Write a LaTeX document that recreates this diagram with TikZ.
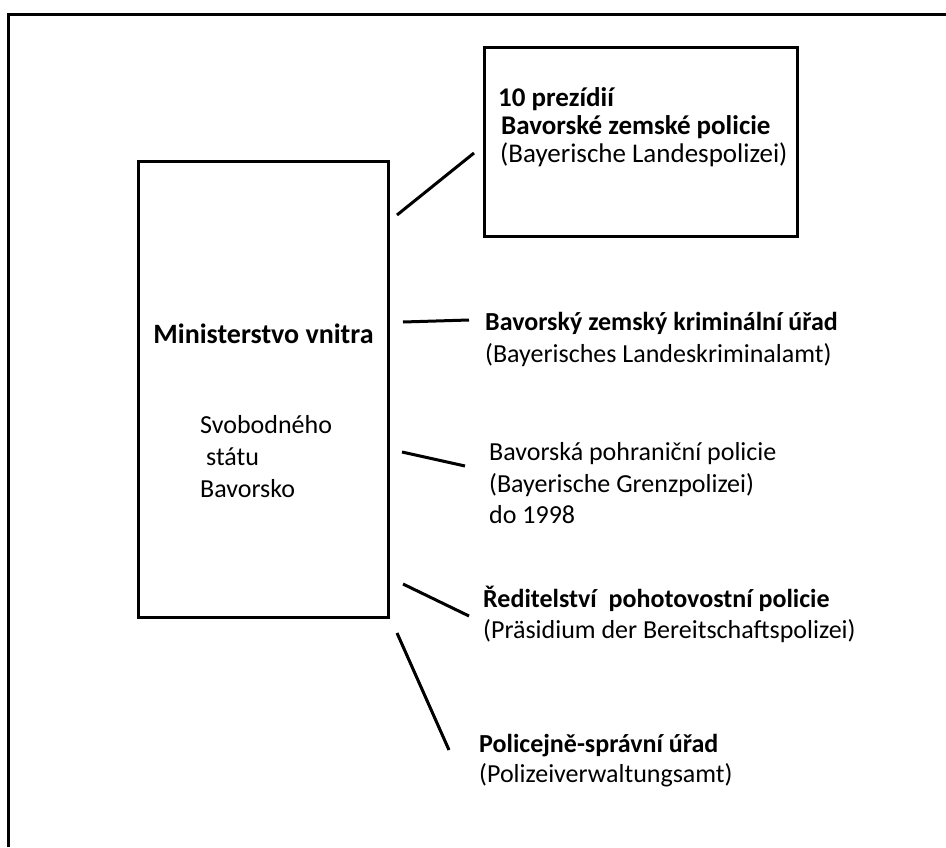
\documentclass[tikz,border=0pt]{standalone}
\usepackage{fontspec}
\setmainfont{Carlito}
\begin{document}
\begin{tikzpicture}[x=1pt,y=-1pt,
  frame/.style={line width=3pt},
  box/.style={draw,line width=3pt,inner sep=0pt},
  conn/.style={line width=3pt},
  txt/.style={anchor=base west,inner sep=0pt,font=\fontsize{26}{32}\selectfont},
  btxt/.style={txt,font=\fontsize{26}{32}\selectfont\bfseries},
  ttxt/.style={txt,font=\fontsize{27}{32}\selectfont},
  tbtxt/.style={txt,font=\fontsize{27}{32}\selectfont\bfseries}]
\useasboundingbox (0,0) rectangle (946,847);
% outer frame (top and left edges only)
\draw[frame] (8,847) -- (8,14) -- (946,14);
% boxes
\node[box,minimum width=250pt,minimum height=456pt] (min) at (263,389) {};
\node[box,minimum width=313pt,minimum height=189pt] (pol) at (640.5,141.5) {};
% texts
\node[btxt,anchor=base,font=\fontsize{28}{32}\selectfont\bfseries] (minA) at (263.5,343) {Ministerstvo vnitra};
\node[txt] (minB) at (200,433) {Svobodného};
\node[txt] (minC) at (206,465) {státu};
\node[txt] (minD) at (200,497) {Bavorsko};
\node[tbtxt] (polA) at (498,106) {10 prezídií};
\node[tbtxt] (polB) at (501,134) {Bavorské zemské policie};
\node[ttxt] (polC) at (500,162) {(Bayerische Landespolizei)};
\node[btxt] (lkaA) at (485,330) {Bavorský zemský kriminální úřad};
\node[txt] (lkaB) at (485,362) {(Bayerisches Landeskriminalamt)};
\node[txt] (grA) at (489,460) {Bavorská pohraniční policie};
\node[txt] (grB) at (489,492) {(Bayerische Grenzpolizei)};
\node[txt] (grC) at (489,523) {do 1998};
\node[btxt] (bpA) at (483,607) {Ředitelství\ \ pohotovostní policie};
\node[txt] (bpB) at (483,638) {(Präsidium der Bereitschaftspolizei)};
\node[btxt] (pvA) at (479,752) {Policejně-správní úřad};
\node[txt] (pvB) at (479,782) {(Polizeiverwaltungsamt)};
% connector end points
\coordinate (c1a) at (397,215); \coordinate (c1b) at (474,153);
\coordinate (c2a) at (403,322); \coordinate (c2b) at (469,320);
\coordinate (c3a) at (402,452); \coordinate (c3b) at (465,466);
\coordinate (c4a) at (403,584); \coordinate (c4b) at (469,616);
\coordinate (c5a) at (397,633); \coordinate (c5b) at (449,750);
\draw[conn] (c1a) -- (c1b);
\draw[conn] (c2a) -- (c2b);
\draw[conn] (c3a) -- (c3b);
\draw[conn] (c4a) -- (c4b);
\draw[conn] (c5a) -- (c5b);
\end{tikzpicture}
\end{document}
